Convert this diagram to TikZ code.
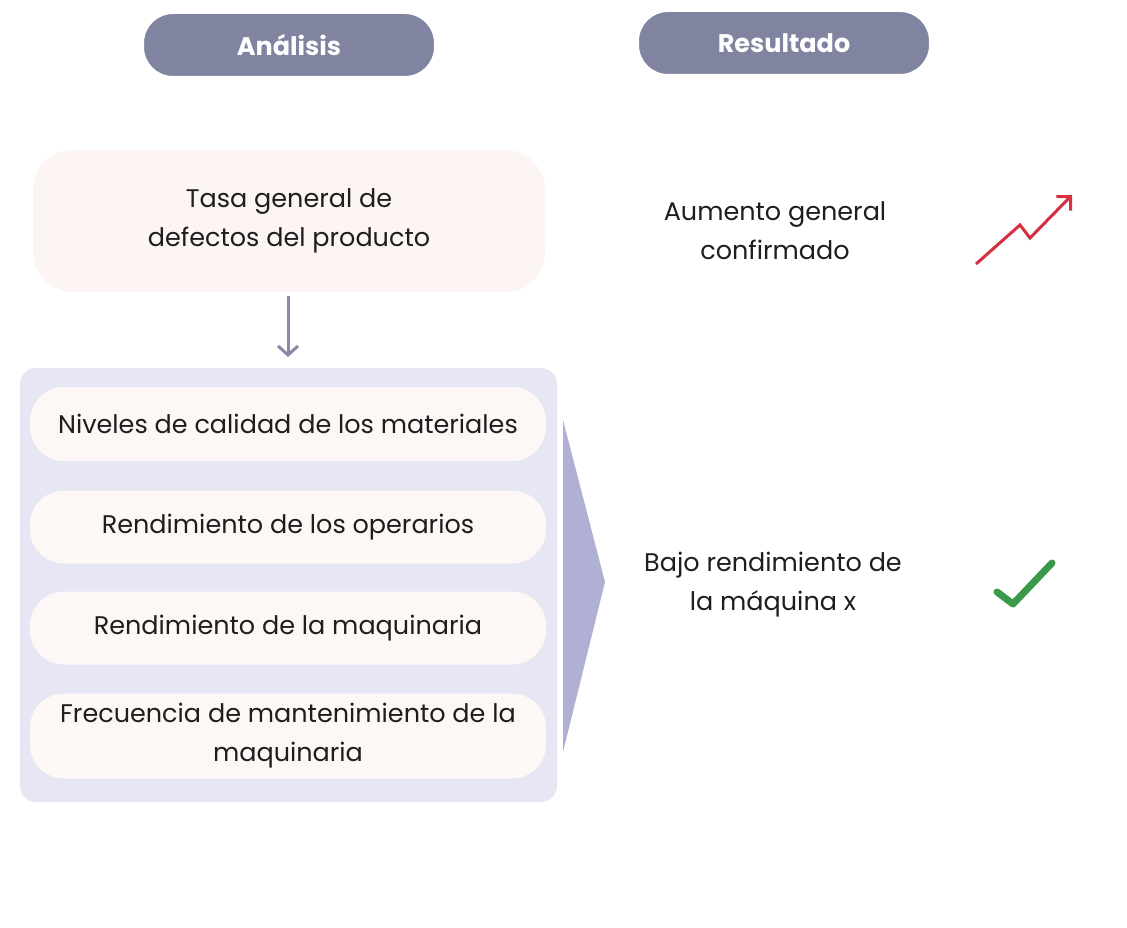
\documentclass[tikz,border=0pt]{standalone}
\usepackage{fontspec}
\usetikzlibrary{arrows.meta}
\setmainfont{Poppins}
\definecolor{hdr}{HTML}{8084A0}
\definecolor{pinkbg}{HTML}{FDF5F3}
\definecolor{panel}{HTML}{E6E6F4}
\definecolor{item}{HTML}{FDF8F6}
\definecolor{tri}{HTML}{B0B0D4}
\definecolor{arr}{HTML}{8A8AA6}
\definecolor{redc}{HTML}{D63040}
\definecolor{grn}{HTML}{3A9A4A}
\definecolor{txt}{HTML}{1E1E1E}
\begin{document}
\begin{tikzpicture}[x=1pt,y=-1pt,
 hdr/.style={fill=hdr,draw=white,line width=2pt,rounded corners=30pt,minimum width=292pt,minimum height=64pt,text=white,font=\fontsize{25.5}{30}\selectfont\bfseries},
 it/.style={fill=item,rounded corners=34pt,minimum width=516pt,text=txt,font=\fontsize{25.5}{39}\selectfont,align=center},
 lbl/.style={text=txt,font=\fontsize{25.5}{39}\selectfont,align=center}]
\useasboundingbox[fill=white] (0,0) rectangle (1127,928);
\node[hdr] (h1) at (289,45) {Análisis};
\node[hdr] (h2) at (784,43) {Resultado};
\node[fill=pinkbg,rounded corners=40pt,minimum width=512pt,minimum height=142pt,lbl] (tasa) at (289,221) {Tasa general de\\defectos del producto};
\node[fill=panel,rounded corners=16pt,minimum width=537pt,minimum height=434pt] (panel) at (288.5,585) {};
\coordinate (a1) at (288,296);
\coordinate (a2) at (288,357);
\draw[arr,line width=3pt,-{Straight Barb[length=9pt,width=20pt]}] (a1) -- (a2);
\node[it,minimum height=74pt] (n1) at (288,424) {Niveles de calidad de los materiales};
\node[it,minimum height=73pt] (n2) at (288,527) {Rendimiento de los operarios};
\node[it,minimum height=73pt] (n3) at (288,628) {Rendimiento de la maquinaria};
\node[it,minimum height=85pt] (n4) at (288,736) {Frecuencia de mantenimiento de la\\maquinaria};
\fill[tri] (563,420) -- (605,582) -- (563,752) -- cycle;
\node[lbl] (r1) at (775,231) {Aumento general\\confirmado};
\node[lbl] (r2) at (773,585) {Bajo rendimiento de\\la máquina x};
\coordinate (t1) at (976,264);
\coordinate (t2) at (1020,225);
\coordinate (t3) at (1030,238);
\coordinate (t4) at (1072,195);
\draw[redc,line width=3pt,line join=miter,-{Straight Barb[length=10pt,width=20pt]}] (t1) -- (t2) -- (t3) -- (t4);
\coordinate (c1) at (997,592);
\coordinate (c2) at (1013,604);
\coordinate (c3) at (1052,563);
\draw[grn,line width=7pt,line cap=round,line join=round] (c1) -- (c2) -- (c3);
\end{tikzpicture}
\end{document}
